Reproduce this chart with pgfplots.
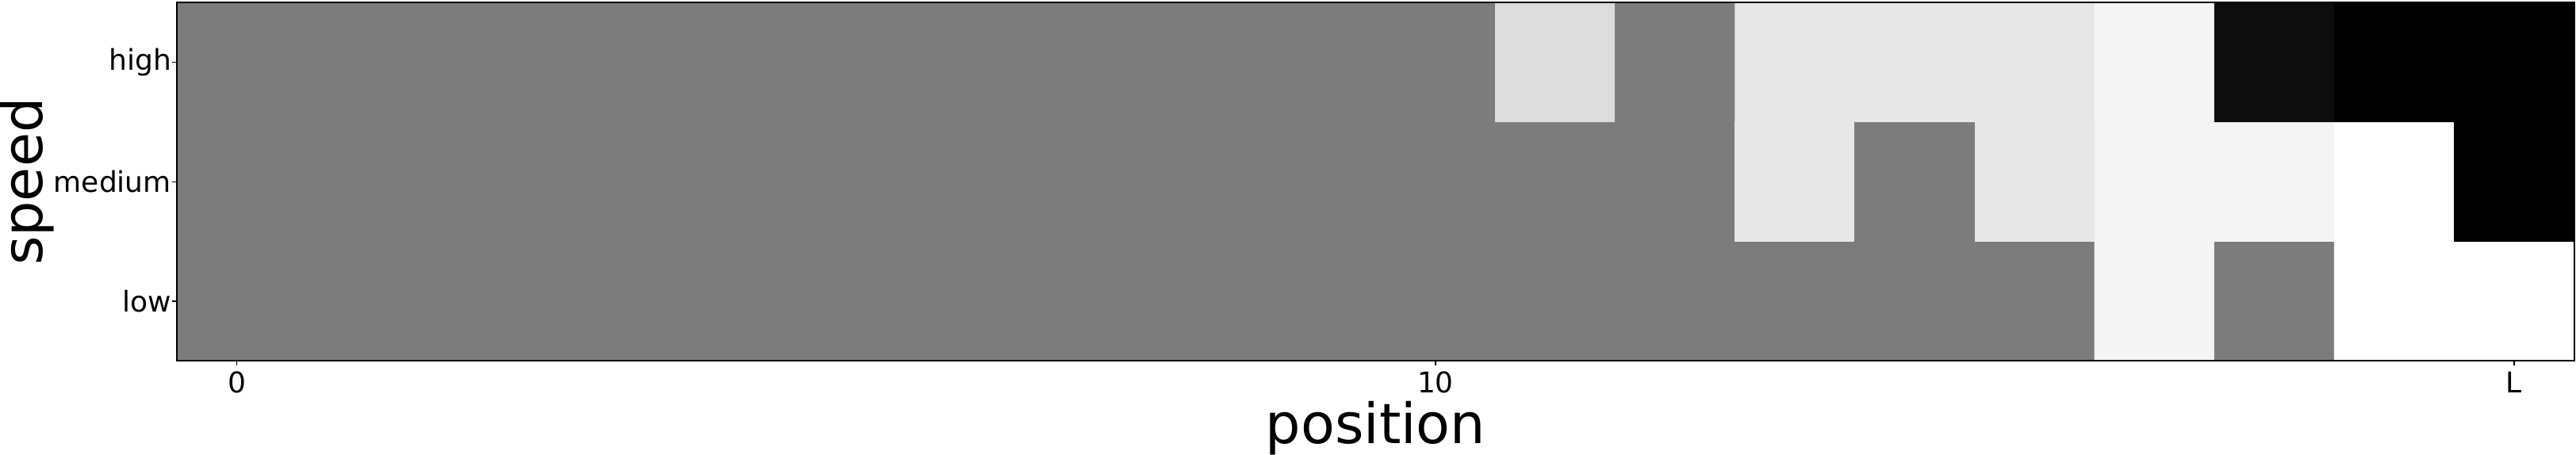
\documentclass[border=0pt]{standalone}
\usepackage{pgfplots}
\pgfplotsset{compat=1.18}
\usepackage{pgfplotstable}
\usepackage{fontspec}
\setmainfont{DejaVu Sans}
\pgfplotstableread{
x y c
0 0 123
1 0 123
2 0 123
3 0 123
4 0 123
5 0 123
6 0 123
7 0 123
8 0 123
9 0 123
10 0 123
11 0 123
12 0 123
13 0 123
14 0 123
15 0 123
16 0 242
17 0 123
18 0 255
19 0 255
0 1 123
1 1 123
2 1 123
3 1 123
4 1 123
5 1 123
6 1 123
7 1 123
8 1 123
9 1 123
10 1 123
11 1 123
12 1 123
13 1 229
14 1 123
15 1 229
16 1 242
17 1 242
18 1 255
19 1 0
0 2 123
1 2 123
2 2 123
3 2 123
4 2 123
5 2 123
6 2 123
7 2 123
8 2 123
9 2 123
10 2 123
11 2 218
12 2 123
13 2 229
14 2 229
15 2 229
16 2 242
17 2 12
18 2 0
19 2 0
}\cells
\begin{document}
\begin{tikzpicture}
\begin{axis}[
  scale only axis,
  width=1510pt, height=226pt,
  xmin=-0.5, xmax=19.5, ymin=-0.5, ymax=2.5,
  enlargelimits=false,
  axis on top,
  colormap/blackwhite,
  point meta min=0, point meta max=255,
  xtick={0,10,19}, xticklabels={0,10,L},
  ytick={0,1,2}, yticklabels={low,medium,high},
  tick align=outside, tick pos=left,
  major tick length=3pt,
  tick style={black, line width=0.6pt},
  axis line style={line width=1pt},
  /pgf/number format/assume math mode=true,
  tick label style={font=\fontsize{18}{21}\selectfont},
  xticklabel style={anchor=north, inner sep=0pt, yshift=-3.5pt},
  yticklabel style={anchor=east, inner sep=0pt, xshift=-0.5pt},
  label style={font=\fontsize{35}{42}\selectfont},
  xlabel={position}, ylabel={speed},
  xlabel style={at={(axis description cs:0.5,0)}, anchor=base, inner sep=0pt, yshift=-52pt},
  ylabel style={at={(axis description cs:0,0.5)}, anchor=south, inner sep=0pt, yshift=77.5pt},
]
\addplot[matrix plot*, mesh/cols=20, mesh/rows=3, point meta=explicit] table[x=x, y=y, meta=c] {\cells};
\end{axis}
\path ([xshift=1.25pt,yshift=1.5pt]current axis.north east);
\end{tikzpicture}
\end{document}
